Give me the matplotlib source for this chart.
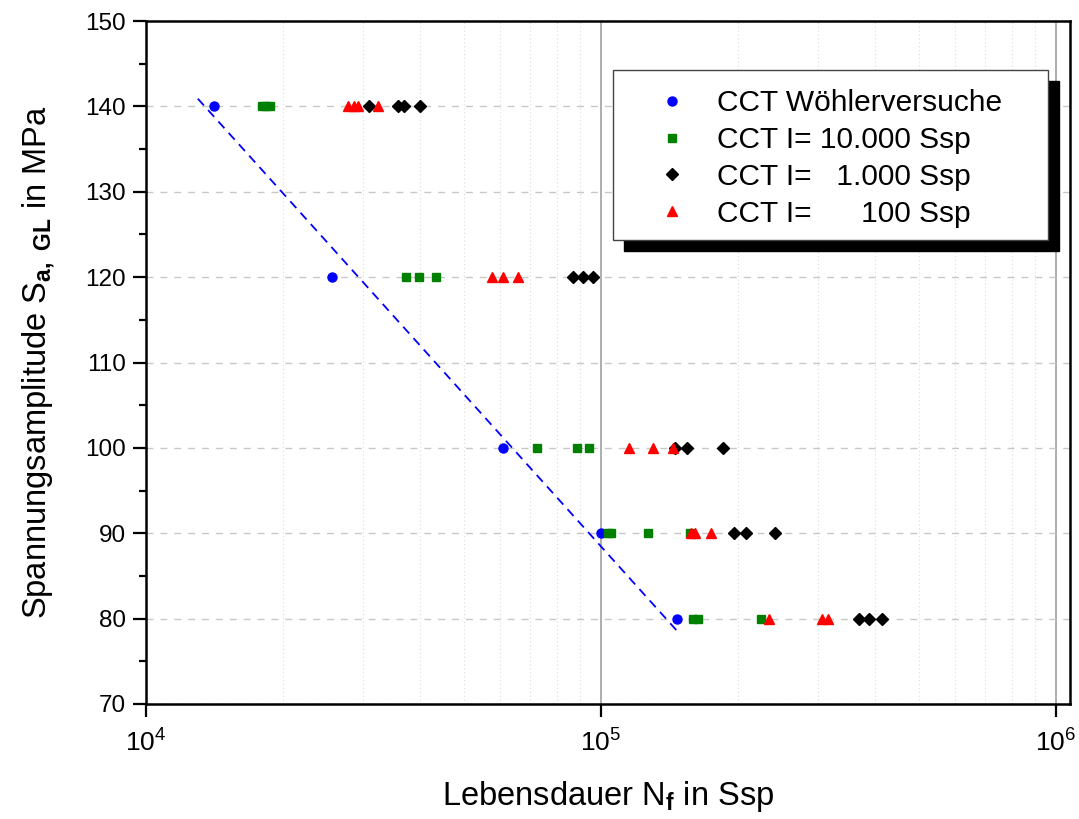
import numpy as np
import matplotlib
matplotlib.use('Agg')
import matplotlib.pyplot as plt
from matplotlib.ticker import MultipleLocator, LogLocator, NullFormatter
from matplotlib.patches import Rectangle

plt.rcParams['font.family'] = ['Liberation Sans', 'DejaVu Sans']
plt.rcParams['mathtext.fontset'] = 'custom'
plt.rcParams['mathtext.rm'] = 'Liberation Sans'
plt.rcParams['mathtext.bf'] = 'Liberation Sans:bold'
plt.rcParams['mathtext.default'] = 'regular'

# Woehlerversuche (blau)
woehler_N = [14100, 25700, 60800, 100300, 147200]
woehler_S = [140, 120, 100, 90, 80]

# I = 10.000 Ssp (gruen)
i10000_N = [17970, 18340, 18720, 37200, 39800, 43500, 72200, 88800, 94400,
            103800, 105200, 127100, 157200, 159700, 163700, 225100]
i10000_S = [140, 140, 140, 120, 120, 120, 100, 100, 100,
            90, 90, 90, 90, 80, 80, 80]

# I = 1.000 Ssp (schwarz)
i1000_N = [31000, 35900, 37000, 40000, 87000, 91500, 96300, 145700, 154800, 185800,
           196400, 208700, 241600, 369400, 388600, 415000]
i1000_S = [140, 140, 140, 140, 120, 120, 120, 100, 100, 100,
           90, 90, 90, 80, 80, 80]

# I = 100 Ssp (rot)
i100_N = [27800, 28600, 29200, 32300, 57500, 60800, 65900, 115500, 130400, 144300,
          158000, 161300, 174800, 234400, 306400, 315900]
i100_S = [140, 140, 140, 140, 120, 120, 120, 100, 100, 100,
          90, 90, 90, 80, 80, 80]

# Woehlerlinie (Ausgleichsgerade)
fit_N = [13000, 148000]
fit_S = [140.9, 78.4]

labels = ['CCT Wöhlerversuche', 'CCT I= 10.000 Ssp', 'CCT I=   1.000 Ssp', 'CCT I=      100 Ssp']

fig = plt.figure(figsize=(10.79, 8.19), dpi=100)
ax = fig.add_axes([146/1079, 1 - 704/819, (1070 - 146)/1079, (704 - 21)/819])

ax.plot(fit_N, fit_S, color='blue', ls=(0, (5, 3.5)), lw=1.3, zorder=2)
ax.plot(woehler_N, woehler_S, 'o', color='blue', ms=6.5, ls='none', label=labels[0], zorder=3)
ax.plot(i10000_N, i10000_S, 's', color='green', ms=5.6, ls='none', label=labels[1], zorder=3)
ax.plot(i1000_N, i1000_S, 'D', color='black', ms=6, ls='none', label=labels[2], zorder=3)
ax.plot(i100_N, i100_S, '^', color='red', ms=7.5, ls='none', label=labels[3], zorder=3)

ax.set_xscale('log')
ax.set_xlim(1e4, 1.075e6)
ax.set_ylim(70, 150)
ax.xaxis.set_major_locator(LogLocator(base=10, numticks=10))
ax.xaxis.set_minor_locator(LogLocator(base=10, subs=np.arange(2, 10), numticks=20))
ax.xaxis.set_minor_formatter(NullFormatter())
ax.yaxis.set_major_locator(MultipleLocator(10))
ax.yaxis.set_minor_locator(MultipleLocator(5))

ax.grid(which='major', axis='y', color='#c8c8c8', ls=(0, (5, 5)), lw=1.0, zorder=0)
ax.grid(which='major', axis='x', color='#a0a0a0', ls='-', lw=1.2, zorder=0)
ax.grid(which='minor', axis='x', color='#dadada', ls=(0, (1, 2.5)), lw=0.8, zorder=0)
ax.set_axisbelow(True)

for sp in ax.spines.values():
    sp.set_linewidth(1.8)
ax.tick_params(which='major', direction='out', length=9.5, width=1.6, pad=5)
ax.tick_params(which='minor', direction='out', length=5, width=1.6)
ax.tick_params(axis='y', which='major', labelsize=17.5)
ax.tick_params(axis='x', which='minor', length=0)
ax.tick_params(axis='x', which='major', pad=9, labelsize=19)

ax.set_xlabel(r'Lebensdauer N$_\mathbf{f}$ in Ssp', fontsize=23.5, labelpad=16)
ax.set_ylabel(r'Spannungsamplitude S$_\mathbf{a,\ GL}$ in MPa', fontsize=23.5, labelpad=20)

# Legendenrahmen mit Schatten
bx0, bx1 = (613 - 146) / 924, (1048 - 146) / 924
by0, by1 = (704 - 240) / 683, (704 - 70) / 683
dx, dy = 11 / 924, 11 / 683
ax.add_patch(Rectangle((bx0 + dx, by0 - dy), bx1 - bx0, by1 - by0, transform=ax.transAxes,
                       facecolor='black', edgecolor='black', zorder=6, clip_on=False))
ax.add_patch(Rectangle((bx0, by0), bx1 - bx0, by1 - by0, transform=ax.transAxes,
                       facecolor='white', edgecolor='#444444', lw=1.0, zorder=7, clip_on=False))

leg = ax.legend(loc='upper left', bbox_to_anchor=((657 - 146) / 924, (704 - 89) / 683),
                frameon=False, fontsize=21.5, numpoints=1, handlelength=1.0,
                handletextpad=1.0, borderpad=0, borderaxespad=0, labelspacing=0.3)
leg.set_zorder(8)

fig.savefig('out.png', dpi=100)
